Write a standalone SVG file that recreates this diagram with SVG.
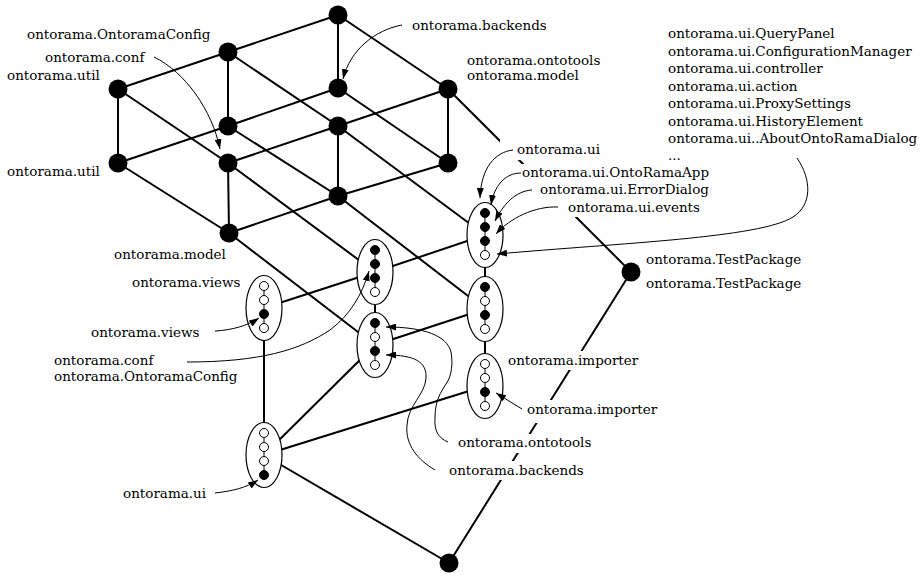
<svg xmlns="http://www.w3.org/2000/svg" width="923" height="576" viewBox="0 0 923 576">
  <defs>
    <style>
      .edge { stroke: #000; stroke-width: 2; fill: none; stroke-linecap: round; }
      .node { fill: #000; }
      .box { fill: #fff; stroke: #000; stroke-width: 1.2; }
      .chain { stroke: #000; stroke-width: 1; }
      .dot-f { fill: #000; stroke: #000; stroke-width: 1; }
      .dot-o { fill: #fff; stroke: #000; stroke-width: 1; }
      .bg { fill: #fff; }
      .lbl { font-family: "DejaVu Serif", "Liberation Serif", serif; font-size: 13.5px; fill: #000; }
      .ptr { stroke: #000; stroke-width: 1; fill: none; marker-end: url(#ah); }
    </style>
    <marker id="ah" viewBox="0 0 10 7" markerWidth="10" markerHeight="7" refX="10" refY="3.5" orient="auto" markerUnits="userSpaceOnUse">
      <path d="M0,0 L10,3.5 L0,7 z" fill="#000"/>
    </marker>
  </defs>

  <rect width="923" height="576" fill="#fff"/>

  <!-- lattice edges -->
  <g id="connectors">
    <!-- upper 3x2x2 grid -->
    <line class="edge" x1="338" y1="15" x2="228" y2="52"/>
    <line class="edge" x1="228" y1="52" x2="118" y2="89"/>
    <line class="edge" x1="338" y1="88" x2="228" y2="126"/>
    <line class="edge" x1="228" y1="126" x2="118" y2="163"/>
    <line class="edge" x1="448" y1="89" x2="338" y2="126"/>
    <line class="edge" x1="338" y1="126" x2="228" y2="163"/>
    <line class="edge" x1="448" y1="163" x2="338" y2="196"/>
    <line class="edge" x1="338" y1="196" x2="229" y2="233"/>
    <line class="edge" x1="338" y1="15" x2="448" y2="89"/>
    <line class="edge" x1="228" y1="52" x2="338" y2="126"/>
    <line class="edge" x1="118" y1="89" x2="228" y2="163"/>
    <line class="edge" x1="338" y1="88" x2="448" y2="163"/>
    <line class="edge" x1="228" y1="126" x2="338" y2="196"/>
    <line class="edge" x1="118" y1="163" x2="229" y2="233"/>
    <line class="edge" x1="338" y1="15" x2="338" y2="88"/>
    <line class="edge" x1="228" y1="52" x2="228" y2="126"/>
    <line class="edge" x1="118" y1="89" x2="118" y2="163"/>
    <line class="edge" x1="448" y1="89" x2="448" y2="163"/>
    <line class="edge" x1="338" y1="126" x2="338" y2="196"/>
    <line class="edge" x1="228" y1="163" x2="229" y2="233"/>
    <!-- grid to nested boxes -->
    <line class="edge" x1="448" y1="89" x2="631" y2="272"/>
    <line class="edge" x1="338" y1="126" x2="485" y2="235"/>
    <line class="edge" x1="338" y1="196" x2="485" y2="309"/>
    <line class="edge" x1="228" y1="163" x2="375" y2="272"/>
    <line class="edge" x1="229" y1="233" x2="375" y2="345"/>
    <!-- lower part -->
    <line class="edge" x1="485" y1="235" x2="485" y2="309"/>
    <line class="edge" x1="485" y1="309" x2="485" y2="386"/>
    <line class="edge" x1="375" y1="272" x2="375" y2="345"/>
    <line class="edge" x1="264" y1="308" x2="264" y2="455"/>
    <line class="edge" x1="264" y1="308" x2="375" y2="272"/>
    <line class="edge" x1="375" y1="272" x2="485" y2="235"/>
    <line class="edge" x1="375" y1="345" x2="485" y2="309"/>
    <line class="edge" x1="264" y1="455" x2="375" y2="345"/>
    <line class="edge" x1="264" y1="455" x2="485" y2="386"/>
    <line class="edge" x1="264" y1="455" x2="449" y2="563"/>
    <line class="edge" x1="631" y1="272" x2="449" y2="563"/>
  </g>

  <!-- plain concept nodes -->
  <g id="n1"><circle class="node" cx="338" cy="15" r="9.5"/></g>
  <g id="n2"><circle class="node" cx="228" cy="52" r="9.5"/></g>
  <g id="n3"><circle class="node" cx="118" cy="89" r="9.5"/></g>
  <g id="n4"><circle class="node" cx="338" cy="88" r="9.5"/></g>
  <g id="n5"><circle class="node" cx="448" cy="89" r="9.5"/></g>
  <g id="n6"><circle class="node" cx="228" cy="126" r="9.5"/></g>
  <g id="n7"><circle class="node" cx="338" cy="126" r="9.5"/></g>
  <g id="n8"><circle class="node" cx="118" cy="163" r="9.5"/></g>
  <g id="n9"><circle class="node" cx="228" cy="163" r="9.5"/></g>
  <g id="n10"><circle class="node" cx="448" cy="163" r="9.5"/></g>
  <g id="n11"><circle class="node" cx="338" cy="196" r="9.5"/></g>
  <g id="n12"><circle class="node" cx="229" cy="233" r="9.5"/></g>
  <g id="test-package"><circle class="node" cx="631" cy="272" r="9.5"/></g>
  <g id="bottom"><circle class="node" cx="449" cy="563" r="9.5"/></g>

  <!-- nested boxes with inner four-element chains -->
  <g id="box-ui-top">
    <ellipse class="box" cx="485" cy="235" rx="18" ry="32.5"/>
    <line class="chain" x1="485" y1="213" x2="485" y2="255"/>
    <circle class="dot-f" cx="485" cy="213" r="4.5"/>
    <circle class="dot-f" cx="485" cy="227" r="4.5"/>
    <circle class="dot-f" cx="485" cy="241" r="4.5"/>
    <circle class="dot-o" cx="485" cy="255" r="4.5"/>
  </g>
  <g id="box-mid-right">
    <ellipse class="box" cx="485" cy="309" rx="18" ry="32.5"/>
    <line class="chain" x1="485" y1="287" x2="485" y2="329"/>
    <circle class="dot-f" cx="485" cy="287" r="4.5"/>
    <circle class="dot-o" cx="485" cy="301" r="4.5"/>
    <circle class="dot-f" cx="485" cy="315" r="4.5"/>
    <circle class="dot-o" cx="485" cy="329" r="4.5"/>
  </g>
  <g id="box-importer">
    <ellipse class="box" cx="485" cy="386" rx="18" ry="32.5"/>
    <line class="chain" x1="485" y1="364" x2="485" y2="406"/>
    <circle class="dot-o" cx="485" cy="364" r="4.5"/>
    <circle class="dot-o" cx="485" cy="378" r="4.5"/>
    <circle class="dot-f" cx="485" cy="392" r="4.5"/>
    <circle class="dot-o" cx="485" cy="406" r="4.5"/>
  </g>
  <g id="box-conf">
    <ellipse class="box" cx="375" cy="272" rx="18" ry="32.5"/>
    <line class="chain" x1="375" y1="250" x2="375" y2="292"/>
    <circle class="dot-f" cx="375" cy="250" r="4.5"/>
    <circle class="dot-f" cx="375" cy="264" r="4.5"/>
    <circle class="dot-f" cx="375" cy="278" r="4.5"/>
    <circle class="dot-o" cx="375" cy="292" r="4.5"/>
  </g>
  <g id="box-tools">
    <ellipse class="box" cx="375" cy="345" rx="18" ry="32.5"/>
    <line class="chain" x1="375" y1="323" x2="375" y2="365"/>
    <circle class="dot-f" cx="375" cy="323" r="4.5"/>
    <circle class="dot-o" cx="375" cy="337" r="4.5"/>
    <circle class="dot-f" cx="375" cy="351" r="4.5"/>
    <circle class="dot-o" cx="375" cy="365" r="4.5"/>
  </g>
  <g id="box-views">
    <ellipse class="box" cx="264" cy="308" rx="18" ry="32.5"/>
    <line class="chain" x1="264" y1="286" x2="264" y2="328"/>
    <circle class="dot-o" cx="264" cy="286" r="4.5"/>
    <circle class="dot-o" cx="264" cy="300" r="4.5"/>
    <circle class="dot-f" cx="264" cy="314" r="4.5"/>
    <circle class="dot-o" cx="264" cy="328" r="4.5"/>
  </g>
  <g id="box-ui-bottom">
    <ellipse class="box" cx="264" cy="455" rx="18" ry="32.5"/>
    <line class="chain" x1="264" y1="433" x2="264" y2="475"/>
    <circle class="dot-o" cx="264" cy="433" r="4.5"/>
    <circle class="dot-o" cx="264" cy="447" r="4.5"/>
    <circle class="dot-o" cx="264" cy="461" r="4.5"/>
    <circle class="dot-f" cx="264" cy="475" r="4.5"/>
  </g>

  <!-- white backing behind labels that sit on top of edges -->
  <g id="label-backing">
    <rect class="bg" x="500" y="139" width="108" height="21"/>
    <rect class="bg" x="518" y="164" width="206" height="18"/>
    <rect class="bg" x="528" y="182" width="184" height="17"/>
    <rect class="bg" x="545" y="199" width="157" height="18"/>
    <rect class="bg" x="504" y="351" width="138" height="19"/>
    <rect class="bg" x="520" y="400" width="142" height="23"/>
    <rect class="bg" x="454" y="434" width="141" height="19"/>
    <rect class="bg" x="445" y="461" width="143" height="19"/>
  </g>

  <g id="labels" class="lbl">
    <text x="27" y="39">ontorama.OntoramaConfig</text>
    <text x="45" y="62">ontorama.conf</text>
    <text x="7" y="80">ontorama.util</text>
    <text x="7" y="176">ontorama.util</text>
    <text x="412" y="30">ontorama.backends</text>
    <text x="467" y="65">ontorama.ontotools</text>
    <text x="467" y="80">ontorama.model</text>
    <text x="668" y="38">ontorama.ui.QueryPanel</text>
    <text x="668" y="56">ontorama.ui.ConfigurationManager</text>
    <text x="668" y="73">ontorama.ui.controller</text>
    <text x="668" y="91">ontorama.ui.action</text>
    <text x="668" y="108">ontorama.ui.ProxySettings</text>
    <text x="668" y="126">ontorama.ui.HistoryElement</text>
    <text x="668" y="143">ontorama.ui..AboutOntoRamaDialog</text>
    <text x="668" y="160">...</text>
    <text x="517" y="154">ontorama.ui</text>
    <text x="522" y="177">ontorama.ui.OntoRamaApp</text>
    <text x="540" y="194">ontorama.ui.ErrorDialog</text>
    <text x="568" y="212">ontorama.ui.events</text>
    <text x="646" y="264">ontorama.TestPackage</text>
    <text x="646" y="288">ontorama.TestPackage</text>
    <text x="114" y="259">ontorama.model</text>
    <text x="132" y="287">ontorama.views</text>
    <text x="91" y="337">ontorama.views</text>
    <text x="54" y="365">ontorama.conf</text>
    <text x="54" y="381">ontorama.OntoramaConfig</text>
    <text x="508" y="365">ontorama.importer</text>
    <text x="527" y="414">ontorama.importer</text>
    <text x="458" y="447">ontorama.ontotools</text>
    <text x="449" y="475">ontorama.backends</text>
    <text x="123" y="498">ontorama.ui</text>
  </g>

  <!-- label pointers -->
  <g id="pointers">
    <path class="ptr" d="M154,57 C185,72 212,110 220,149"/>
    <path class="ptr" d="M402,25 C375,30 350,50 343,79"/>
    <path class="ptr" d="M513,150 C495,152 481,168 480,198"/>
    <path class="ptr" d="M521,173 C505,173 494,186 491,205"/>
    <path class="ptr" d="M532,190 C515,191 503,205 495,221"/>
    <path class="ptr" d="M558,207 C535,206 510,218 496,234"/>
    <path class="ptr" d="M797,158 C812,180 812,205 793,217 C760,238 620,243 497,254"/>
    <path class="ptr" d="M215,331 C232,330 247,326 259,318"/>
    <path class="ptr" d="M187,362 C260,362 300,350 330,330 C350,315 362,295 369,271"/>
    <path class="ptr" d="M448,442 C438,438 434,430 435,418 C435,400 441,392 446,384 C452,376 453,362 451,352 C447,336 425,327 386,327"/>
    <path class="ptr" d="M435,470 C418,460 405,445 407,425 C408,405 425,395 426,378 C427,362 415,355 386,355"/>
    <path class="ptr" d="M522,409 L496,393"/>
    <path class="ptr" d="M215,493 C232,491 246,488 258,480"/>
  </g>
</svg>
